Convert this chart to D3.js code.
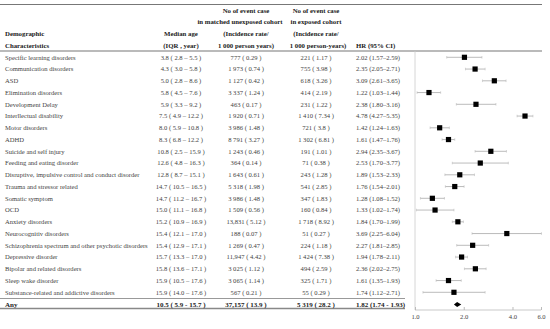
<!DOCTYPE html>
<html>
<head>
    <script src="https://cdn.jsdelivr.net/npm/d3@7"></script>
    <meta charset="utf-8">
    <style>
        body { margin: 0; background: #fff; }
        text { font-family: "Liberation Serif", "DejaVu Serif", serif; }
    </style>
</head>
<body>
    <script>
        var names = ['Specific learning disorders', 'Communication disorders', 'ASD', 'Elimination disorders',
            'Development Delay', 'Interllectual disability', 'Motor disorders', 'ADHD', 'Suicide and self injury',
            'Feeding and eating disorder', 'Disruptive, impulsive control and conduct disorder',
            'Trauma and stressor related', 'Somatic symptom', 'OCD', 'Anxiety disorders', 'Neurocognitiv disorders',
            'Schizophrenia spectrum and other psychotic disorders', 'Depressive disorder',
            'Bipolar and related disorders', 'Sleep wake disorder', 'Substance-related and addictive disorders'];
        var medianAge = ['3.8 ( 2.8 \u2013 5.5 )', '4.3 ( 3.0 \u2013 5.8 )', '5.0 ( 2.8 \u2013 8.6 )', '5.8 ( 4.5 \u2013 7.6 )',
            '5.9 ( 3.3 \u2013 9.2 )', '7.5 ( 4.9 \u2013 12.2 )', '8.0 ( 5.9 \u2013 10.8 )', '8.3 ( 6.8 \u2013 12.2 )',
            '10.8 ( 2.5 \u2013 15.9 )', '12.6 ( 4.8 \u2013 16.3 )', '12.8 ( 8.7 \u2013 15.1 )', '14.7 ( 10.5 \u2013 16.5 )',
            '14.7 ( 11.2 \u2013 16.7 )', '15.0 ( 11.1 \u2013 16.8 )', '15.2 ( 10.9 \u2013 16.9 )', '15.4 ( 12.1 \u2013 17.0 )',
            '15.4 ( 12.9 \u2013 17.1 )', '15.7 ( 13.3 \u2013 17.0 )', '15.8 ( 13.6 \u2013 17.1 )', '15.9 ( 10.5 \u2013 17.6 )',
            '15.9 ( 14.0 \u2013 17.6 )'];
        var unexposed = ['777 ( 0.29 )', '1 973 ( 0.74 )', '1 127 ( 0.42 )', '3 337 ( 1.24 )', '463 ( 0.17 )',
            '1 920 ( 0.71 )', '3 986 ( 1.48 )', '8 791 ( 3.27 )', '1 243 ( 0.46 )', '364 ( 0.14 )', '1 643 ( 0.61 )',
            '5 318 ( 1.98 )', '3 986 ( 1.48 )', '1 509 ( 0.56 )', '13,831 ( 5.12 )', '188 ( 0.07 )', '1 269 ( 0.47 )',
            '11,947 ( 4.42 )', '3 025 ( 1.12 )', '3 065 ( 1.14 )', '567 ( 0.21 )'];
        var exposed = ['221 ( 1.17 )', '755 ( 3.98 )', '618 ( 3.26 )', '414 ( 2.19 )', '231 ( 1.22 )', '1 410 ( 7.34 )',
            '721 ( 3.8 )', '1 302 ( 6.81 )', '191 ( 1.01 )', '71 ( 0.38 )', '243 ( 1.28 )', '541 ( 2.85 )',
            '347 ( 1.83 )', '160 ( 0.84 )', '1 718 ( 8.92 )', '51 ( 0.27 )', '224 ( 1.18 )', '1 424 ( 7.38 )',
            '494 ( 2.59 )', '325 ( 1.71 )', '55 ( 0.29 )'];
        var hr = [2.02, 2.35, 3.09, 1.22, 2.38, 4.78, 1.42, 1.61, 2.94, 2.53, 1.89, 1.76, 1.28, 1.33, 1.84, 3.69,
            2.27, 1.94, 2.36, 1.61, 1.74];
        var lo = [1.57, 2.05, 2.61, 1.03, 1.80, 4.27, 1.24, 1.47, 2.35, 1.70, 1.53, 1.54, 1.08, 1.02, 1.70, 2.25,
            1.81, 1.78, 2.02, 1.35, 1.12];
        var hi = [2.59, 2.71, 3.65, 1.44, 3.16, 5.35, 1.63, 1.76, 3.67, 3.77, 2.33, 2.01, 1.52, 1.74, 1.99, 6.04,
            2.85, 2.11, 2.75, 1.93, 2.71];
        var anyRow = { name: 'Any', age: '10.5 ( 5.9  -  15.7 )', unexposed: '37,157 ( 13.9 )',
            exposed: '5 319 ( 28.2 )', hr: 1.82, lo: 1.74, hi: 1.93 };
        var ticks = [1, 2, 4, 6];

        var W = 550, H = 329;
        var svg = d3.select('body').append('svg').attr('width', W).attr('height', H);

        var colName = 5, colAge = 181, colUnexp = 246, colExp = 316, colHR = 356;
        var x = d3.scaleLog().domain([1, 6]).range([415, 541]);
        var y = d3.scaleLinear().domain([0, names.length - 1]).range([57.3, 292.3]);
        var yAny = 304.5;

        function fmt(i) { return hr[i].toFixed(2) + ' (' + lo[i].toFixed(2) + '\u2013' + hi[i].toFixed(2) + ')'; }

        // rules
        var rule = function (x1, x2, yy, w, c) {
            svg.append('line').attr('x1', x1).attr('x2', x2).attr('y1', yy).attr('y2', yy)
                .attr('stroke', c).attr('stroke-width', w);
        };
        rule(0, 542, 4.5, 1.2, '#777');
        rule(0, 542, 51, 1.2, '#777');
        rule(0, 405, 298.5, 1, '#999');
        rule(0, 405, 308.5, 1.6, '#888');

        // header
        var head = svg.append('g').attr('font-size', 6.8).attr('font-weight', 'bold').attr('fill', '#222');
        var hdr = [
            [colName, 36, 'start', 'Demographic'], [colName, 47.5, 'start', 'Characteristics'],
            [colAge, 36, 'middle', 'Median age'], [colAge, 47.5, 'middle', '(IQR , year)'],
            [colUnexp, 12.5, 'middle', 'No of event case'], [colUnexp - 6, 24, 'middle', 'in matched unexposed cohort'],
            [colUnexp, 36, 'middle', '(Incidence rate/'], [colUnexp, 47.5, 'middle', '1 000 person years)'],
            [colExp, 12.5, 'middle', 'No of event case'], [colExp, 24, 'middle', 'in exposed cohort'],
            [colExp, 36, 'middle', '(Incidence rate/'], [colExp + 2, 47.5, 'middle', '1 000 person-years)'],
            [colHR, 47.5, 'start', 'HR (95% CI)']
        ];
        head.selectAll('text').data(hdr).enter().append('text')
            .attr('x', function (d) { return d[0]; })
            .attr('y', function (d) { return d[1]; })
            .attr('text-anchor', function (d) { return d[2]; })
            .text(function (d) { return d[3]; });

        // body rows
        var body = svg.append('g').attr('font-size', 6.6).attr('fill', '#444');
        var rows = body.selectAll('g').data(names).enter().append('g')
            .attr('transform', function (d, i) { return 'translate(0,' + (y(i) + 2.4) + ')'; });
        rows.append('text').attr('x', colName).text(function (d) { return d; });
        rows.append('text').attr('x', colAge).attr('text-anchor', 'middle').text(function (d, i) { return medianAge[i]; });
        rows.append('text').attr('x', colUnexp).attr('text-anchor', 'middle').text(function (d, i) { return unexposed[i]; });
        rows.append('text').attr('x', colExp).attr('text-anchor', 'middle').text(function (d, i) { return exposed[i]; });
        rows.append('text').attr('x', colHR).text(function (d, i) { return fmt(i); });

        // any row
        var anyG = svg.append('g').attr('font-size', 7).attr('font-weight', 'bold').attr('fill', '#222')
            .attr('transform', 'translate(0,' + (yAny + 2.5) + ')');
        anyG.append('text').attr('x', colName).text(anyRow.name);
        anyG.append('text').attr('x', colAge).attr('text-anchor', 'middle').text(anyRow.age);
        anyG.append('text').attr('x', colUnexp).attr('text-anchor', 'middle').text(anyRow.unexposed);
        anyG.append('text').attr('x', colExp).attr('text-anchor', 'middle').text(anyRow.exposed);
        anyG.append('text').attr('x', colHR)
            .text(anyRow.hr.toFixed(2) + ' (' + anyRow.lo.toFixed(2) + ' - ' + anyRow.hi.toFixed(2) + ')');

        // plot: reference line at 1
        svg.append('line').attr('x1', x(1)).attr('x2', x(1)).attr('y1', 51).attr('y2', 310)
            .attr('stroke', '#ccc').attr('stroke-width', 0.8);

        var plot = svg.append('g');
        var ci = plot.selectAll('g.ci').data(names).enter().append('g').attr('class', 'ci');
        ci.append('line')
            .attr('x1', function (d, i) { return x(lo[i]); })
            .attr('x2', function (d, i) { return x(hi[i]); })
            .attr('y1', function (d, i) { return y(i); })
            .attr('y2', function (d, i) { return y(i); })
            .attr('stroke', '#aaa').attr('stroke-width', 0.8);
        [lo, hi].forEach(function (arr) {
            ci.append('line')
                .attr('x1', function (d, i) { return x(arr[i]); })
                .attr('x2', function (d, i) { return x(arr[i]); })
                .attr('y1', function (d, i) { return y(i) - 1.3; })
                .attr('y2', function (d, i) { return y(i) + 1.3; })
                .attr('stroke', '#bbb').attr('stroke-width', 0.6);
        });
        ci.append('rect')
            .attr('x', function (d, i) { return x(hr[i]) - 2.6; })
            .attr('y', function (d, i) { return y(i) - 2.6; })
            .attr('width', 5.2).attr('height', 5.2)
            .attr('fill', '#000');

        // overall diamond
        plot.append('path')
            .attr('d', 'M' + x(anyRow.lo) + ',' + yAny + 'L' + x(anyRow.hr) + ',' + (yAny - 2.4) +
                'L' + x(anyRow.hi) + ',' + yAny + 'L' + x(anyRow.hr) + ',' + (yAny + 2.4) + 'Z')
            .attr('fill', '#000');

        // axis
        var axis = svg.append('g').attr('transform', 'translate(0,310)')
            .call(d3.axisBottom(x).tickValues(ticks).tickSize(3).tickFormat(d3.format('.1f')));
        axis.select('.domain').attr('stroke', '#bbb').attr('stroke-width', 0.8)
            .attr('d', 'M' + x(1) + ',0H' + x(6));
        axis.selectAll('.tick line').attr('stroke', '#bbb').attr('y2', -3);
        axis.selectAll('.tick text').attr('font-family', '"Liberation Serif", serif')
            .attr('font-size', 6.6).attr('fill', '#444').attr('dy', '0.9em').attr('y', 3);
    </script>
</body>
</html>
